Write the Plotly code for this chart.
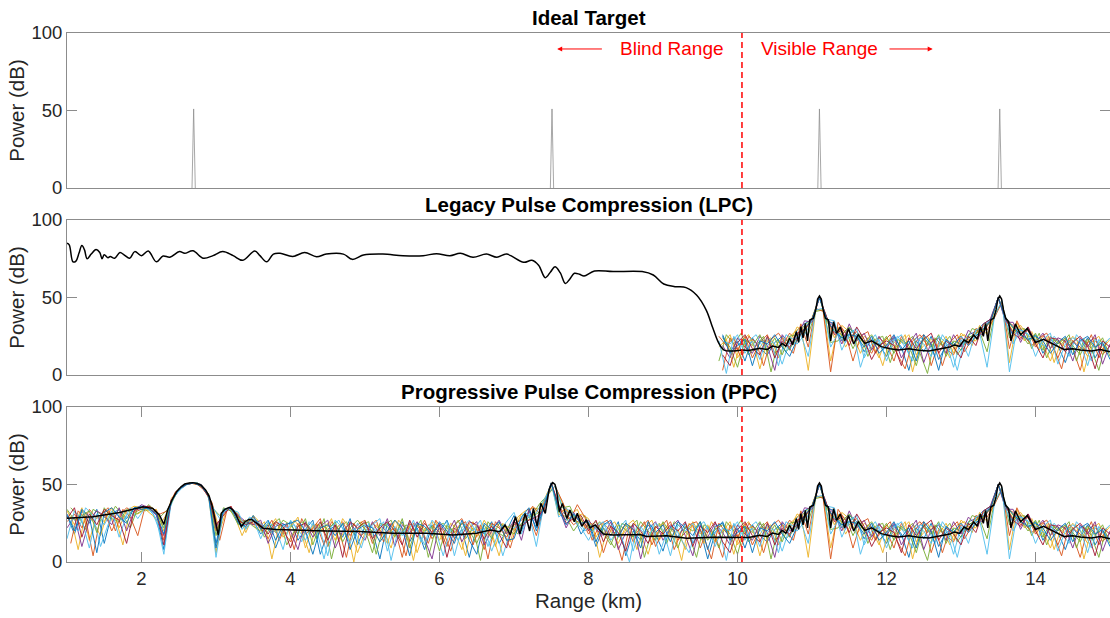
import numpy as np
import plotly.graph_objects as go

# ---------------- data ----------------
target_km = [2.70, 7.51, 11.10, 13.52]
target_power_db = 51
blind_edge_km = 10.06

# sampling grids of the Monte-Carlo realisations (km)
trial_km = np.round(np.arange(1.0, 15.0001, 0.1), 2)
trial_km_b = np.round(np.arange(1.05, 14.96, 0.1), 2)

trial_a = [30, 18, 33, 25, 34, 12, 31, 34, 28, 35,
           36, 34, 31, 8, 40, 47, 50, 51, 49, 43,
           12, 33, 35, 29, 22, 27, 18, 24, 9, 22,
           26, 14, 21, 27, 5, 19, 24, 16, 28, 11,
           23, 20, 2, 25, 17, 26, 13, 22, 8, 24,
           19, 27, 15, 21, 3, 23, 18, 26, 12, 20,
           30, 20, 33, 22, 37, 51, 33, 27, 30, 18,
           25, 10, 22, 17, 26, 4, 20, 14, 24, 18,
           7, 23, 16, 25, 12, 21, 2, 19, 26, 15,
           22, 9, 24, 17, 13, 21, 25, 16, 29, 33,
           36, 50, 35, 33, 22, 30, 26, 15, 23, 20,
           12, 24, 18, 3, 22, 15, 25, 10, 19, 21,
           16, 26, 28, 33, 36, 50, 37, 25, 30, 22,
           26, 14, 23, 19, 8, 22, 16, 24, 11, 20, 15]
trial_b = [26, 31, 22, 34, 28, 33, 20, 30, 35, 32,
           34, 36, 33, 14, 39, 46, 50, 51, 50, 44,
           20, 31, 36, 26, 25, 29, 22, 15, 25, 20,
           13, 25, 18, 22, 28, 10, 21, 26, 17, 24,
           27, 12, 24, 19, 22, 3, 25, 18, 27, 15,
           22, 10, 24, 28, 17, 21, 8, 25, 22, 16,
           24, 28, 30, 17, 35, 51, 36, 30, 24, 28,
           18, 24, 6, 21, 17, 25, 13, 22, 27, 10,
           20, 26, 14, 19, 24, 9, 22, 17, 3, 24,
           16, 25, 11, 21, 26, 14, 19, 27, 22, 30,
           35, 50, 37, 27, 30, 24, 28, 20, 14, 24,
           20, 9, 25, 17, 22, 26, 6, 21, 17, 13,
           24, 20, 30, 28, 35, 50, 35, 32, 24, 29,
           18, 25, 21, 11, 23, 17, 3, 21, 24, 13, 19]
trial_c = [33, 24, 35, 14, 30, 26, 35, 22, 33, 36,
           35, 33, 34, 20, 41, 47, 50, 51, 49, 42,
           6, 34, 34, 31, 19, 30, 25, 21, 28, 16,
           22, 29, 9, 24, 19, 25, 14, 28, 21, 6,
           19, 25, 21, 12, 27, 20, 23, 6, 21, 26,
           14, 23, 20, 8, 25, 16, 27, 19, 4, 23,
           21, 31, 27, 33, 38, 51, 30, 35, 26, 31,
           28, 16, 25, 20, 12, 23, 27, 18, 5, 22,
           25, 16, 21, 8, 26, 18, 24, 13, 20, 26,
           11, 20, 23, 4, 22, 18, 24, 21, 31, 28,
           37, 50, 36, 24, 32, 28, 18, 25, 21, 11,
           24, 17, 21, 26, 13, 19, 23, 18, 25, 14,
           27, 23, 22, 32, 34, 50, 36, 28, 32, 25,
           24, 20, 9, 22, 18, 25, 20, 12, 22, 17, 23]
trial_d = [22, 29, 10, 27, 33, 30, 24, 35, 20, 33,
           37, 35, 30, 17, 40, 46, 50, 51, 50, 43,
           22, 32, 35, 30, 26, 24, 27, 12, 23, 25,
           20, 8, 26, 16, 23, 27, 9, 20, 25, 19,
           14, 26, 17, 28, 10, 24, 19, 26, 15, 2,
           25, 18, 27, 13, 22, 26, 11, 20, 27, 18,
           27, 14, 34, 25, 36, 51, 35, 22, 32, 24,
           27, 21, 17, 26, 8, 19, 24, 2, 21, 26,
           14, 22, 27, 17, 4, 24, 16, 25, 19, 11,
           24, 18, 14, 25, 19, 3, 26, 20, 24, 35,
           34, 50, 36, 31, 20, 33, 22, 27, 16, 25,
           17, 25, 11, 20, 27, 8, 21, 24, 14, 26,
           18, 29, 24, 27, 37, 50, 34, 34, 21, 31,
           21, 27, 17, 24, 22, 9, 24, 18, 26, 7, 20]
trial_e = [34, 27, 30, 33, 19, 35, 28, 26, 34, 30,
           33, 37, 32, 22, 38, 47, 50, 51, 49, 44,
           17, 35, 33, 24, 27, 23, 20, 25, 19, 27,
           24, 18, 28, 11, 25, 21, 26, 13, 22, 27,
           21, 6, 25, 23, 16, 28, 9, 24, 20, 23,
           7, 24, 19, 25, 20, 12, 24, 15, 25, 22,
           18, 25, 29, 31, 34, 51, 32, 29, 20, 27,
           22, 26, 19, 11, 24, 21, 16, 26, 20, 14,
           26, 19, 9, 23, 20, 26, 14, 21, 24, 18,
           5, 23, 19, 26, 15, 24, 13, 25, 26, 32,
           36, 50, 34, 29, 26, 31, 24, 21, 26, 18,
           25, 14, 23, 19, 6, 24, 18, 26, 12, 22,
           20, 24, 27, 29, 35, 50, 37, 30, 27, 20,
           27, 16, 25, 20, 24, 19, 13, 23, 17, 24, 12]
trial_f = [15, 33, 27, 9, 31, 24, 33, 16, 30, 34,
           36, 34, 28, 5, 39, 46, 50, 51, 50, 43,
           3, 33, 34, 32, 21, 28, 15, 26, 22, 8,
           27, 21, 14, 25, 20, 4, 27, 22, 12, 25,
           18, 24, 28, 7, 23, 17, 26, 21, 11, 27,
           21, 26, 4, 22, 27, 19, 22, 7, 20, 26,
           32, 18, 31, 10, 37, 51, 29, 33, 27, 22,
           14, 23, 26, 14, 21, 27, 7, 23, 16, 25,
           21, 4, 24, 20, 25, 15, 23, 10, 22, 20,
           26, 14, 22, 10, 24, 20, 7, 22, 20, 26,
           35, 50, 36, 35, 16, 27, 30, 11, 20, 23,
           9, 22, 26, 14, 24, 20, 12, 25, 21, 5,
           23, 12, 29, 31, 36, 50, 35, 20, 29, 26,
           12, 23, 27, 7, 20, 24, 21, 6, 23, 19, 24]
trial_g = [28, 35, 16, 31, 24, 34, 30, 27, 12, 33,
           35, 36, 33, 11, 40, 47, 50, 51, 49, 42,
           24, 30, 36, 27, 24, 26, 24, 18, 26, 23,
           9, 23, 25, 19, 26, 14, 24, 3, 26, 22,
           26, 15, 22, 26, 20, 11, 27, 16, 25, 19,
           24, 3, 22, 17, 26, 24, 15, 23, 18, 9,
           26, 23, 27, 29, 33, 51, 37, 25, 28, 30,
           20, 27, 13, 23, 19, 7, 25, 20, 12, 23,
           18, 24, 20, 26, 10, 23, 19, 26, 13, 6,
           21, 26, 17, 13, 25, 11, 22, 18, 27, 29,
           36, 50, 37, 26, 29, 19, 31, 23, 10, 19,
           22, 19, 6, 24, 17, 23, 27, 14, 22, 18,
           11, 25, 19, 33, 36, 50, 36, 27, 23, 31,
           20, 11, 24, 23, 15, 21, 25, 19, 4, 22, 18]
trial_h = [31, 20, 34, 29, 6, 32, 35, 29, 25, 35,
           34, 35, 31, 18, 39, 47, 50, 51, 49, 43,
           9, 34, 35, 25, 23, 30, 21, 27, 14, 24,
           25, 27, 20, 5, 22, 24, 17, 25, 8, 21,
           24, 22, 13, 20, 27, 22, 4, 25, 23, 17,
           26, 20, 12, 27, 14, 5, 25, 21, 26, 14,
           15, 29, 35, 20, 36, 51, 34, 24, 31, 25,
           26, 13, 24, 27, 16, 25, 21, 9, 26, 19,
           24, 13, 26, 22, 17, 26, 8, 23, 25, 14,
           19, 23, 6, 22, 20, 26, 18, 12, 23, 30,
           36, 50, 36, 28, 24, 26, 25, 18, 25, 14,
           19, 26, 16, 22, 9, 26, 20, 3, 23, 19,
           25, 19, 25, 30, 35, 50, 36, 31, 26, 23,
           25, 22, 14, 21, 25, 13, 22, 25, 18, 21, 10]
# realisations sampled on the half-step grid
trial_p = [29, 8, 32, 26, 17, 33, 29, 11, 34, 31,
           34, 30, 24, 32, 44, 49, 51, 50, 47, 37,
           20, 35, 30, 17, 28, 21, 26, 2, 24, 18,
           27, 21, 6, 25, 19, 28, 13, 23, 0, 26,
           17, 24, 20, 9, 27, 22, 1, 24, 19, 26,
           12, 25, 21, 4, 26, 18, 23, 10, 25, 13,
           29, 33, 35, 34, 45, 49, 38, 30, 34, 22,
           25, 3, 21, 26, 17, 24, 8, 22, 27, 14,
           23, 19, 1, 25, 20, 12, 26, 18, 23, 5,
           22, 26, 15, 21, 24, 11, 22, 27, 31, 3,
           42, 42, 9, 31, 18, 26, 14, 24, 20, 6,
           24, 19, 26, 2, 21, 25, 15, 22, 11, 24,
           26, 19, 32, 26, 38, 47, 8, 34, 22, 28,
           16, 25, 8, 23, 19, 24, 2, 21, 25, 14]
trial_q = [35, 30, 21, 34, 31, 27, 36, 30, 22, 35,
           33, 35, 29, 34, 43, 49, 51, 51, 47, 35,
           30, 34, 33, 25, 25, 27, 16, 24, 28, 11,
           20, 26, 23, 15, 28, 2, 22, 26, 18, 24,
           26, 5, 23, 27, 15, 24, 20, 27, 3, 22,
           25, 19, 27, 15, 22, 1, 26, 20, 17, 24,
           18, 29, 31, 38, 43, 49, 35, 36, 25, 30,
           20, 26, 17, 9, 25, 22, 27, 3, 20, 25,
           12, 26, 22, 17, 3, 24, 21, 9, 26, 20,
           27, 13, 19, 25, 2, 23, 15, 20, 29, 26,
           41, 42, 21, 22, 29, 17, 27, 12, 23, 25,
           8, 23, 20, 25, 14, 1, 24, 19, 25, 13,
           20, 30, 28, 15, 39, 47, 24, 29, 30, 17,
           27, 11, 23, 20, 26, 9, 23, 17, 3, 22]
trial_r = [12, 33, 28, 4, 30, 35, 20, 34, 29, 17,
           36, 33, 31, 33, 45, 49, 51, 50, 46, 38,
           14, 34, 32, 27, 25, 24, 19, 27, 14, 25,
           8, 28, 19, 24, 11, 26, 21, 3, 25, 17,
           22, 27, 13, 25, 19, 4, 25, 21, 12, 27,
           20, 7, 23, 26, 11, 24, 2, 26, 20, 9,
           26, 28, 36, 31, 44, 49, 39, 27, 37, 29,
           14, 24, 27, 18, 1, 23, 19, 26, 11, 21,
           27, 8, 20, 24, 26, 16, 2, 25, 19, 24,
           10, 25, 21, 6, 23, 27, 20, 14, 33, 18,
           43, 41, 2, 34, 27, 9, 25, 28, 14, 21,
           26, 13, 4, 22, 26, 19, 23, 6, 21, 26,
           15, 24, 30, 29, 37, 47, 17, 35, 25, 19,
           24, 27, 17, 4, 24, 20, 16, 26, 11, 21]
trial_s = [25, 20, 35, 30, 10, 24, 33, 26, 35, 28,
           35, 32, 19, 31, 43, 48, 51, 51, 47, 36,
           28, 35, 31, 21, 29, 26, 23, 19, 26, 22,
           24, 13, 26, 21, 2, 23, 27, 16, 22, 9,
           25, 20, 26, 1, 22, 16, 27, 13, 24, 20,
           4, 22, 14, 24, 20, 27, 10, 22, 4, 20,
           24, 32, 28, 36, 44, 49, 36, 33, 29, 20,
           24, 20, 25, 22, 15, 0, 24, 18, 24, 5,
           19, 24, 14, 6, 22, 26, 17, 22, 1, 25,
           18, 22, 26, 17, 21, 6, 26, 23, 26, 12,
           42, 43, 18, 27, 21, 29, 5, 20, 26, 16,
           21, 25, 18, 9, 24, 22, 12, 26, 19, 3,
           23, 25, 27, 5, 38, 48, 2, 30, 28, 25,
           21, 18, 25, 19, 12, 26, 20, 9, 23, 16]

trials = [(trial_km, trial_a, "#0072BD"), (trial_km_b, trial_p, "#EDB120"),
          (trial_km, trial_b, "#D95319"), (trial_km_b, trial_q, "#77AC30"),
          (trial_km, trial_c, "#EDB120"), (trial_km_b, trial_r, "#D95319"),
          (trial_km, trial_d, "#7E2F8E"), (trial_km_b, trial_s, "#4DBEEE"),
          (trial_km, trial_e, "#77AC30"), (trial_km, trial_f, "#4DBEEE"),
          (trial_km, trial_g, "#A2142F"), (trial_km, trial_h, "#0072BD")]
lpc_trial_start_km = 9.75

# mean curve, LPC (blind part)
lpc_mean_km = [1.0, 1.03, 1.08, 1.12, 1.16, 1.2, 1.235, 1.27, 1.325, 1.39, 1.44, 1.47,
               1.5, 1.55, 1.58, 1.64, 1.71, 1.77, 1.84, 1.91, 2.0, 2.09, 2.2, 2.29,
               2.38, 2.51, 2.58, 2.69, 2.83, 2.96, 3.09, 3.23, 3.36, 3.52, 3.59, 3.68,
               3.77, 3.86, 4.03, 4.19, 4.35, 4.48, 4.71, 4.83, 4.98, 5.24, 5.51, 5.78,
               5.96, 6.14, 6.28, 6.45, 6.63, 6.77, 6.9, 7.13, 7.24, 7.33, 7.42, 7.49,
               7.55, 7.62, 7.69, 7.75, 7.81, 7.88, 7.94, 8.08, 8.33, 8.72, 8.87, 9.01,
               9.16, 9.31, 9.45, 9.58, 9.67, 9.75, 9.82, 9.94]
lpc_mean_db = [85, 84, 73, 73.5, 78.5, 83.5, 80.7, 75, 78, 81, 79, 75,
               77.6, 75.7, 76.5, 75.3, 79, 77.4, 75.3, 79.6, 77, 80, 73, 76.8,
               76, 79.6, 78.5, 80.2, 75.3, 77, 79.6, 77, 74, 80, 77, 73,
               78, 78.5, 76.5, 79, 76.3, 78, 78, 74.6, 77.4, 78, 77, 77,
               78.3, 77, 78.5, 76, 78, 76, 78, 72.7, 74, 70.8, 62.8, 66.5,
               69.8, 66, 59, 62, 65.6, 65, 63.9, 67.1, 66.7, 66.7, 64.5, 58.7,
               57, 56.4, 51.6, 41.9, 30.1, 20.4, 16.1, 15.5]

# mean curve, PPC (blind part)
ppc_mean_km = [1.0, 1.35, 1.71, 2.02, 2.15, 2.24, 2.3, 2.35, 2.41, 2.47, 2.53, 2.58,
               2.64, 2.69, 2.75, 2.8, 2.86, 2.91, 2.95, 2.98, 3.03, 3.07, 3.12, 3.18,
               3.23, 3.27, 3.34, 3.39, 3.44, 3.48, 3.57, 3.63, 3.81, 4.03, 4.21, 4.48,
               4.93, 5.37, 5.83, 6.18, 6.5, 6.68, 6.81, 6.88, 6.95, 7.02, 7.08, 7.15,
               7.21, 7.26, 7.31, 7.36, 7.42, 7.45, 7.47, 7.5, 7.52, 7.55, 7.57, 7.61,
               7.65, 7.71, 7.75, 7.81, 7.85, 7.91, 7.97, 8.02, 8.09, 8.2, 8.33, 8.69,
               8.78, 9.05, 9.32, 9.68, 9.94]
ppc_mean_db = [28.2, 29.2, 32, 35.7, 34.6, 30.3, 24.3, 33.5, 40, 45.4, 48.5, 50.3,
               51, 51.2, 50.6, 49.6, 46.5, 42.2, 36, 29.2, 17.4, 31.4, 34, 35.3,
               33.5, 30.5, 22.8, 26, 27.5, 27.5, 24, 21.8, 21, 20.6, 20.3, 20,
               19.6, 18.5, 18.5, 17.4, 18.5, 20.6, 19.6, 23.9, 17.5, 29.2, 18, 31.4,
               20, 34.6, 23, 37.8, 31.4, 40, 46.5, 50, 51.2, 50, 46.5, 32.5,
               37.8, 28, 33.5, 26, 31.4, 23, 27.2, 22, 23.9, 18.1, 17.4, 17.8,
               16.5, 17, 15.3, 16, 15.8]

# mean curve in the visible range (same for LPC and PPC)
vis_mean_km = [10.06, 10.15, 10.3, 10.4, 10.47, 10.55, 10.6, 10.65, 10.7, 10.74,
               10.79, 10.82, 10.85, 10.88, 10.91, 10.94, 10.97, 11.02, 11.05, 11.075,
               11.1, 11.125, 11.15, 11.18, 11.22, 11.25, 11.29, 11.33, 11.38, 11.44,
               11.49, 11.56, 11.62, 11.71, 11.8, 11.93, 12.05, 12.16, 12.3, 12.43,
               12.57, 12.73, 12.85, 12.91, 12.98, 13.04, 13.1, 13.17, 13.22, 13.26,
               13.3, 13.33, 13.36, 13.4, 13.44, 13.47, 13.495, 13.52, 13.545, 13.57,
               13.6, 13.64, 13.67, 13.73, 13.8, 13.89, 14.0, 14.11, 14.25, 14.38,
               14.5, 14.6, 14.75, 14.87, 15.0]
vis_mean_db = [16.1, 15.8, 17.2, 16.5, 18.7, 17.8, 20.4, 18.5, 23.7, 19.5,
               28, 21, 31.2, 24, 33.3, 22, 35.5, 36.6, 42, 49,
               51, 49, 42, 36.6, 35.5, 22, 34.4, 26.9, 31, 22,
               30, 20, 26, 20.4, 22, 18.3, 17, 16.1, 17, 16,
               15.5, 17.2, 18, 19.4, 18.5, 22.6, 21, 25.8, 23, 31,
               25, 33.3, 22, 35.5, 36.6, 42, 49, 51, 49, 42,
               36.6, 34.4, 22, 33, 26, 30, 21, 23, 19.4, 16.5,
               17, 16.1, 15.5, 16.5, 15]

# ---------------- figure ----------------
W, H = 1110, 618
M_L, M_R, M_T, M_B = 67, 0, 33, 56
plot_h = H - M_T - M_B
def dom(top_px, bot_px):
    return [(H - M_B - bot_px) / plot_h, (H - M_B - top_px) / plot_h]

doms = [dom(33, 188), dom(220, 375), dom(407, 562)]

fig = go.Figure()

# top panel: ideal targets
sx, sy = [], []
for c in target_km:
    sx += [c - 0.022, c, c + 0.022, None]
    sy += [0, target_power_db, 0, None]
fig.add_trace(go.Scatter(x=sx, y=sy, mode="lines", xaxis="x", yaxis="y",
                         line=dict(color="#909090", width=0.8)))

trial_line = dict(width=1.0)
# LPC trials (only visible where they leave the leakage floor)
for xs, vals, col in trials:
    xs = np.asarray(xs)
    k = xs >= lpc_trial_start_km - 1e-9
    fig.add_trace(go.Scatter(x=xs[k], y=np.asarray(vals)[k], mode="lines", xaxis="x2", yaxis="y2",
                             opacity=0.9, line=dict(trial_line, color=col)))
fig.add_trace(go.Scatter(x=lpc_mean_km + vis_mean_km[:1], y=lpc_mean_db + vis_mean_db[:1],
                         mode="lines", line_shape="spline", xaxis="x2", yaxis="y2",
                         line=dict(color="black", width=1.5)))
fig.add_trace(go.Scatter(x=vis_mean_km, y=vis_mean_db, mode="lines",
                         xaxis="x2", yaxis="y2", line=dict(color="black", width=1.5)))
# PPC trials
for xs, vals, col in trials:
    fig.add_trace(go.Scatter(x=xs, y=vals, mode="lines", xaxis="x3", yaxis="y3",
                             opacity=0.9, line=dict(trial_line, color=col)))
fig.add_trace(go.Scatter(x=ppc_mean_km + vis_mean_km, y=ppc_mean_db + vis_mean_db, mode="lines",
                         xaxis="x3", yaxis="y3", line=dict(color="black", width=1.5)))

axcol = "#8c8c8c"
font_fam = "Liberation Sans, Arial, Helvetica, sans-serif"
tick_font = dict(family=font_fam, size=18.5, color="#262626")

common_x = dict(range=[1, 15], domain=[0, 1], showgrid=False, zeroline=False,
                showline=True, linecolor=axcol, linewidth=1)
common_y = dict(range=[0, 100], tickvals=[0, 50, 100], ticks="inside", ticklen=10,
                tickcolor=axcol, mirror="ticks", showline=True, linecolor=axcol, linewidth=1,
                showgrid=False, zeroline=False, tickfont=tick_font,
                title=dict(text="Power (dB)", font=dict(family=font_fam, size=20.5, color="#262626"),
                           standoff=1))

layout = dict(
    width=W, height=H, margin=dict(l=M_L, r=M_R, t=M_T, b=M_B),
    paper_bgcolor="white", plot_bgcolor="white", showlegend=False,
    hovermode=False,
    xaxis=dict(common_x, anchor="y", showticklabels=False, ticks="", mirror=True),
    xaxis2=dict(common_x, anchor="y2", showticklabels=False, ticks="", mirror=True),
    xaxis3=dict(common_x, anchor="y3", tickvals=[2, 4, 6, 8, 10, 12, 14], ticks="inside",
                ticklen=10, tickcolor=axcol, mirror="ticks", tickfont=tick_font,
                title=dict(text="Range (km)", font=dict(family=font_fam, size=20.5, color="#262626"),
                           standoff=4)),
    yaxis=dict(common_y, domain=doms[0], anchor="x"),
    yaxis2=dict(common_y, domain=doms[1], anchor="x2"),
    yaxis3=dict(common_y, domain=doms[2], anchor="x3"),
)
fig.update_layout(**layout)

# panel titles
titles = ["Ideal Target", "Legacy Pulse Compression (LPC)", "Progressive Pulse Compression (PPC)"]
for t, d in zip(titles, doms):
    fig.add_annotation(text="<b>%s</b>" % t, xref="paper", yref="paper", x=0.5, y=d[1],
                       xanchor="center", yanchor="bottom", yshift=2, showarrow=False,
                       font=dict(family=font_fam, size=20.5, color="black"))

# blind/visible boundary
for xr, yr in [("x", "y"), ("x2", "y2"), ("x3", "y3")]:
    fig.add_shape(type="line", xref=xr, yref=yr + " domain", x0=blind_edge_km, x1=blind_edge_km,
                  y0=0, y1=1, line=dict(color="#ff0000", width=1.5, dash="6px,4px"), layer="above")

red_font = dict(family=font_fam, size=19, color="#ff0000")
fig.add_annotation(text="Blind Range", x=9.12, y=89.7, xref="x", yref="y", showarrow=False,
                   font=red_font, xanchor="center", yanchor="middle")
fig.add_annotation(text="Visible Range", x=11.1, y=89.7, xref="x", yref="y", showarrow=False,
                   font=red_font, xanchor="center", yanchor="middle")
fig.add_annotation(text="", x=7.58, y=89.7, ax=8.2, ay=89.7, xref="x", yref="y", axref="x", ayref="y",
                   showarrow=True, arrowhead=2, arrowsize=1, arrowwidth=1, arrowcolor="#ff0000")
fig.add_annotation(text="", x=12.62, y=89.7, ax=12.02, ay=89.7, xref="x", yref="y", axref="x", ayref="y",
                   showarrow=True, arrowhead=2, arrowsize=1, arrowwidth=1, arrowcolor="#ff0000")

fig.write_html("out.html")
